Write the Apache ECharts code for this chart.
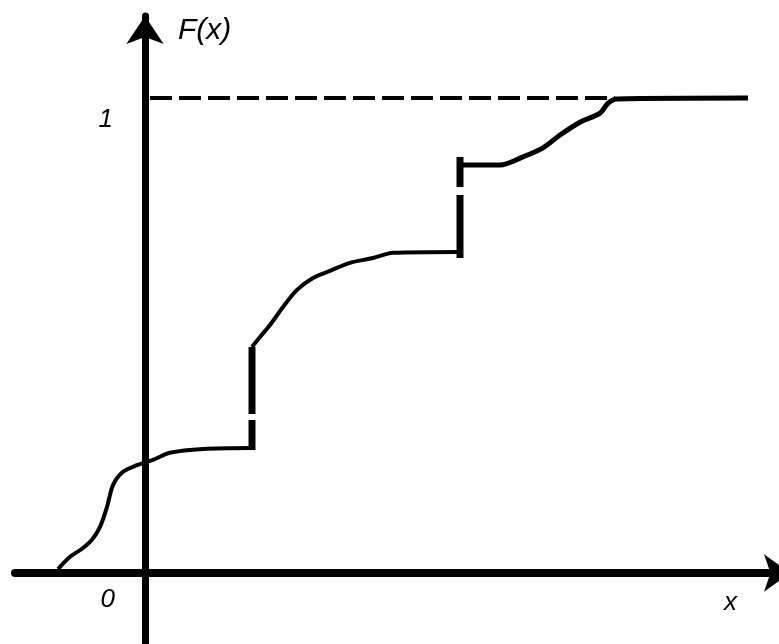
<!DOCTYPE html>
<html>
<head>
<meta charset="utf-8">
<script src="https://cdn.jsdelivr.net/npm/echarts@6.0.0/dist/echarts.min.js"></script>
<style>
  html, body { margin: 0; padding: 0; background: #fff; }
  #main { width: 779px; height: 644px; }
</style>
</head>
<body>
<div id="main"></div>
<script>
// F(x) sketch: continuous pieces + two jumps
var partA_x = [-0.87, -0.75, -0.63, -0.53, -0.45, -0.38, -0.32, -0.22, -0.08, 0.08, 0.25, 0.58, 1.07];
var partA_y = [0.008, 0.034, 0.051, 0.070, 0.097, 0.139, 0.185, 0.213, 0.227, 0.238, 0.253, 0.261, 0.263];
var partB_x = [1.07, 1.15, 1.25, 1.38, 1.52, 1.68, 1.85, 2.05, 2.28, 2.48, 3.12];
var partB_y = [0.476, 0.497, 0.522, 0.560, 0.596, 0.621, 0.636, 0.653, 0.663, 0.674, 0.676];
var partC_x = [3.15, 3.55, 3.78, 3.98, 4.15, 4.35, 4.55, 4.63, 4.72, 6.03];
var partC_y = [0.859, 0.859, 0.876, 0.895, 0.922, 0.949, 0.968, 0.989, 0.998, 1];
var jump1 = [[1.07, 0.259], [1.07, 0.476]];
var jump2 = [[3.15, 0.663], [3.15, 0.876]];
var levelLine = [[0.05, 1], [4.7, 1]];
var yTickLabels = ['0', '1'];
var yName = 'F(x)';
var xName = 'x';

function pairs(xs, ys) {
  return xs.map(function (x, i) { return [x, ys[i]]; });
}

var chart = echarts.init(document.getElementById('main'));
var option = {
  animation: false,
  backgroundColor: '#fff',
  grid: {
    left: 15,
    right: -11,
    top: 16,
    bottom: 0,
    containLabel: false,
    outerBoundsMode: 'none'
  },
  xAxis: {
    type: 'value',
    min: -1.3,
    max: 6.45,
    splitLine: { show: false },
    axisTick: { show: false },
    axisLabel: { show: false },
    axisLine: {
      onZero: true,
      symbol: ['none', 'arrow'],
      symbolSize: [28, 26],
      lineStyle: { color: '#000', width: 8 }
    }
  },
  yAxis: {
    type: 'value',
    min: -0.1495,
    max: 1.1726,
    splitLine: { show: false },
    axisTick: { show: false },
    axisLabel: { show: false },
    axisLine: {
      onZero: true,
      symbol: ['none', 'arrow'],
      symbolSize: [28, 28],
      lineStyle: { color: '#000', width: 7 }
    }
  },
  series: [
    {
      type: 'line', data: levelLine, symbol: 'none',
      lineStyle: { color: '#000', width: 4, type: [22, 7] }
    },
    {
      type: 'line', data: pairs(partA_x, partA_y), symbol: 'none',
      smooth: 0.3,
      lineStyle: { color: '#000', width: 4 }
    },
    {
      type: 'line', data: pairs(partB_x, partB_y), symbol: 'none',
      smooth: 0.3,
      lineStyle: { color: '#000', width: 4 }
    },
    {
      type: 'line', data: pairs(partC_x, partC_y), symbol: 'none',
      smooth: 0.3,
      lineStyle: { color: '#000', width: 5 }
    },
    {
      type: 'line', data: jump1, symbol: 'none',
      lineStyle: { color: '#000', width: 7, type: [30, 6, 80] }
    },
    {
      type: 'line', data: jump2, symbol: 'none',
      lineStyle: { color: '#000', width: 7, type: [63, 8, 40] }
    }
  ]
};
chart.setOption(option);

// text labels placed relative to the axes
var origin = chart.convertToPixel({ gridIndex: 0 }, [0, 0]);
var one = chart.convertToPixel({ gridIndex: 0 }, [0, 1]);
var font = 'italic 26px "Liberation Sans"';
chart.setOption({
  graphic: [
    {
      type: 'text', x: origin[0] - 32, y: one[1] + 22,
      style: { text: yTickLabels[1], font: font, fill: '#000', align: 'right', verticalAlign: 'middle' }
    },
    {
      type: 'text', x: origin[0] - 30, y: origin[1] + 27,
      style: { text: yTickLabels[0], font: font, fill: '#000', align: 'right', verticalAlign: 'middle' }
    },
    {
      type: 'text', x: origin[0] + 33, y: 16,
      style: { text: yName, font: 'italic 30px "Liberation Sans"', fill: '#000' }
    },
    {
      type: 'text', x: 724, y: 590,
      style: { text: xName, font: font, fill: '#000' }
    }
  ]
});
</script>
</body>
</html>
